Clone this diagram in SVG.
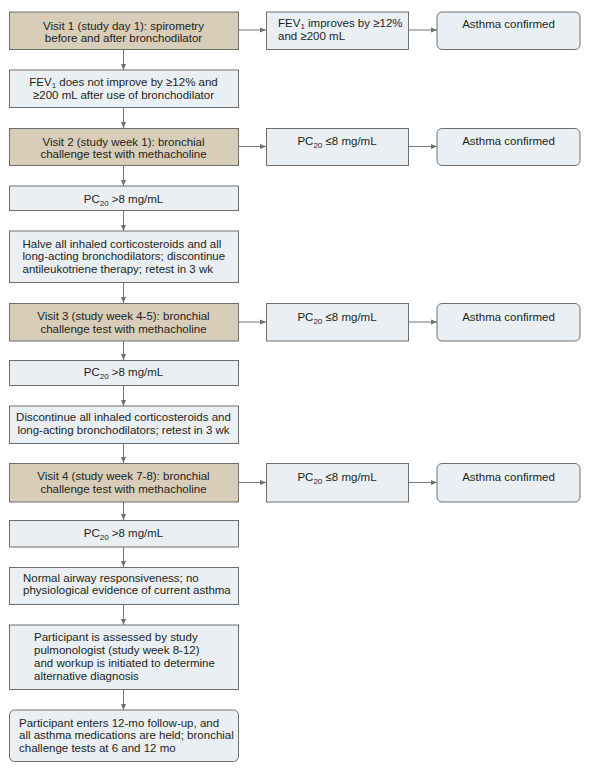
<svg xmlns="http://www.w3.org/2000/svg" width="594" height="769" viewBox="0 0 594 769">
<defs>
<style>
.visit{fill:#d8cdb9;stroke:#6e6e6e;stroke-width:1}
.step{fill:#eaeff4;stroke:#6e6e6e;stroke-width:1}
.end{fill:#eaeff4;stroke:#6e6e6e;stroke-width:1}
text{font-family:"Liberation Sans",Arial,sans-serif;font-size:11.5px;fill:#231f20}
.c{text-anchor:middle}
.sub{font-size:8px}
.conn{stroke:#777;stroke-width:1;fill:none;marker-end:url(#ah)}
</style>
<marker id="ah" markerWidth="6" markerHeight="6" refX="6" refY="3" orient="auto" markerUnits="userSpaceOnUse">
<path d="M0,0.5 L6,3 L0,5.5 z" fill="#6e6e6e"/>
</marker>
</defs>
<rect width="594" height="769" fill="#ffffff"/>

<g id="connectors">
<path class="conn" d="M123.5,49.5 V70"/>
<path class="conn" d="M123.5,107.5 V128"/>
<path class="conn" d="M123.5,165.5 V186"/>
<path class="conn" d="M123.5,210.5 V231"/>
<path class="conn" d="M123.5,282.5 V303"/>
<path class="conn" d="M123.5,341 V360"/>
<path class="conn" d="M123.5,385.5 V406"/>
<path class="conn" d="M123.5,443.5 V463"/>
<path class="conn" d="M123.5,502 V520"/>
<path class="conn" d="M123.5,547 V567"/>
<path class="conn" d="M123.5,604.5 V625"/>
<path class="conn" d="M123.5,689.5 V710"/>
<path class="conn" d="M238.5,30 H266"/>
<path class="conn" d="M408.5,30 H437"/>
<path class="conn" d="M238.5,146.5 H266"/>
<path class="conn" d="M408.5,146.5 H437"/>
<path class="conn" d="M238.5,322 H266"/>
<path class="conn" d="M408.5,322 H437"/>
<path class="conn" d="M238.5,482.5 H266"/>
<path class="conn" d="M408.5,482.5 H437"/>
</g>

<g id="visit1">
<rect class="visit" x="9.5" y="12" width="229" height="37.5"/>
<text class="c" x="123.5" y="29.5">Visit 1 (study day 1): spirometry</text>
<text class="c" x="123.5" y="41.5">before and after bronchodilator</text>
</g>
<g id="fev-improves">
<rect class="step" x="266.5" y="12" width="142" height="37.5"/>
<text x="278" y="26.5">FEV<tspan class="sub" dy="2">1</tspan><tspan dy="-2"> improves by ≥12%</tspan></text>
<text x="278" y="39.5">and ≥200 mL</text>
</g>
<g id="confirmed1">
<rect class="end" x="437" y="12" width="143" height="37.5" rx="5"/>
<text class="c" x="508.5" y="27.5">Asthma confirmed</text>
</g>
<g id="fev-not">
<rect class="step" x="9.5" y="70" width="229" height="37.5"/>
<text class="c" x="123.5" y="85.5">FEV<tspan class="sub" dy="2">1</tspan><tspan dy="-2"> does not improve by ≥12% and</tspan></text>
<text class="c" x="123.5" y="98.5">≥200 mL after use of bronchodilator</text>
</g>

<g id="visit2">
<rect class="visit" x="9.5" y="128.5" width="229" height="37"/>
<text class="c" x="123.5" y="145.5">Visit 2 (study week 1): bronchial</text>
<text class="c" x="123.5" y="157.5">challenge test with methacholine</text>
</g>
<g id="pc-le-2">
<rect class="step" x="266.5" y="128.5" width="142" height="37"/>
<text class="c" x="337" y="144.5">PC<tspan class="sub" dy="3">20</tspan><tspan dy="-3"> ≤8 mg/mL</tspan></text>
</g>
<g id="confirmed2">
<rect class="end" x="437" y="128.5" width="143" height="37" rx="5"/>
<text class="c" x="508.5" y="144.5">Asthma confirmed</text>
</g>
<g id="pc-gt-2">
<rect class="step" x="9.5" y="186" width="229" height="24.5"/>
<text class="c" x="123.5" y="202.5">PC<tspan class="sub" dy="3">20</tspan><tspan dy="-3"> &gt;8 mg/mL</tspan></text>
</g>
<g id="halve">
<rect class="step" x="9.5" y="231" width="229" height="51.5"/>
<text x="22.5" y="247.5">Halve all inhaled corticosteroids and all</text>
<text x="22.5" y="260">long-acting bronchodilators; discontinue</text>
<text x="22.5" y="272.5">antileukotriene therapy; retest in 3 wk</text>
</g>

<g id="visit3">
<rect class="visit" x="9.5" y="303.5" width="229" height="37.5"/>
<text class="c" x="123.5" y="320">Visit 3 (study week 4-5): bronchial</text>
<text class="c" x="123.5" y="332.5">challenge test with methacholine</text>
</g>
<g id="pc-le-3">
<rect class="step" x="266.5" y="303.5" width="142" height="37.5"/>
<text class="c" x="337" y="320.5">PC<tspan class="sub" dy="3">20</tspan><tspan dy="-3"> ≤8 mg/mL</tspan></text>
</g>
<g id="confirmed3">
<rect class="end" x="437" y="303.5" width="143" height="37.5" rx="5"/>
<text class="c" x="508.5" y="320.5">Asthma confirmed</text>
</g>
<g id="pc-gt-3">
<rect class="step" x="9.5" y="360.5" width="229" height="25"/>
<text class="c" x="123.5" y="376">PC<tspan class="sub" dy="3">20</tspan><tspan dy="-3"> &gt;8 mg/mL</tspan></text>
</g>
<g id="discontinue">
<rect class="step" x="9.5" y="406" width="229" height="37.5"/>
<text class="c" x="123.5" y="420.5">Discontinue all inhaled corticosteroids and</text>
<text class="c" x="123.5" y="433.5">long-acting bronchodilators; retest in 3 wk</text>
</g>

<g id="visit4">
<rect class="visit" x="9.5" y="463.5" width="229" height="38.5"/>
<text class="c" x="123.5" y="480">Visit 4 (study week 7-8): bronchial</text>
<text class="c" x="123.5" y="492.5">challenge test with methacholine</text>
</g>
<g id="pc-le-4">
<rect class="step" x="266.5" y="463.5" width="142" height="38.5"/>
<text class="c" x="337" y="480.5">PC<tspan class="sub" dy="3">20</tspan><tspan dy="-3"> ≤8 mg/mL</tspan></text>
</g>
<g id="confirmed4">
<rect class="end" x="437" y="463.5" width="143" height="38.5" rx="5"/>
<text class="c" x="508.5" y="480.5">Asthma confirmed</text>
</g>
<g id="pc-gt-4">
<rect class="step" x="9.5" y="520.5" width="229" height="26.5"/>
<text class="c" x="123.5" y="537">PC<tspan class="sub" dy="3">20</tspan><tspan dy="-3"> &gt;8 mg/mL</tspan></text>
</g>
<g id="normal">
<rect class="step" x="9.5" y="567.5" width="229" height="37"/>
<text x="23" y="581.5">Normal airway responsiveness; no</text>
<text x="23" y="594">physiological evidence of current asthma</text>
</g>
<g id="assessed">
<rect class="step" x="9.5" y="625" width="229" height="64.5"/>
<text x="34" y="640.5">Participant is assessed by study</text>
<text x="34" y="653.5">pulmonologist (study week 8-12)</text>
<text x="34" y="666.5">and workup is initiated to determine</text>
<text x="34" y="679.5">alternative diagnosis</text>
</g>
<g id="followup">
<rect class="end" x="9.5" y="710" width="229" height="51.5" rx="5"/>
<text x="19" y="726.5">Participant enters 12-mo follow-up, and</text>
<text x="19" y="739">all asthma medications are held; bronchial</text>
<text x="19" y="751.5">challenge tests at 6 and 12 mo</text>
</g>
</svg>
